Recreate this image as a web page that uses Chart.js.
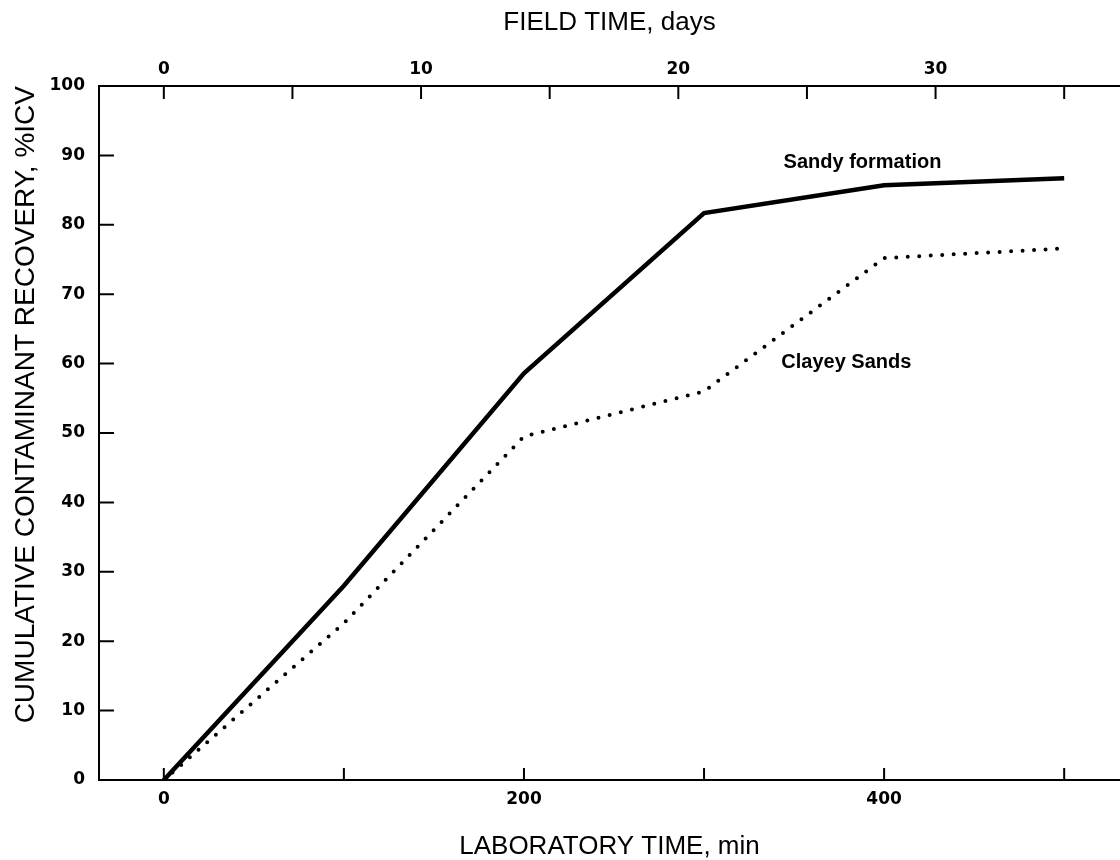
<!DOCTYPE html>
<html><head><meta charset="utf-8">
<script src="https://cdn.jsdelivr.net/npm/chart.js@4/dist/chart.umd.min.js"></script>
<style>html,body{margin:0;padding:0;background:#fff}canvas{display:block}</style>
</head><body>
<canvas id="c" width="1120" height="860"></canvas>
<script>
// ---- data ----
const labTimeMin = [0, 100, 200, 300, 400, 500];
const sandyFormation = [0, 28, 58.6, 81.7, 85.7, 86.7];
const clayeySands = [0, 22.6, 49.5, 56, 75.2, 76.6];
const seriesNames = ['Sandy formation', 'Clayey Sands'];

const labTicks = [0, 100, 200, 300, 400, 500];
const labTickLabels = ['0', '', '200', '', '400', ''];
const fieldTicks = [0, 5, 10, 15, 20, 25, 30, 35];
const fieldTickLabels = ['0', '', '10', '', '20', '', '30', ''];
const recoveryTicks = [0, 10, 20, 30, 40, 50, 60, 70, 80, 90, 100];
const recoveryTickLabels = ['0', '10', '20', '30', '40', '50', '60', '70', '80', '90', '100'];

const labRange = [-36, 531];          // visible laboratory-time range, min
const minutesPerDay = 500 / 35;       // 35 field days = 500 lab minutes

// series label anchors (data units: lab min, %ICV)
const noteLab = [388, 379];
const noteRecovery = [89, 60.2];

// ---- chart ----
const tickFont = { family: '"DejaVu Sans", sans-serif', weight: 'bold', size: 17 };
const titleFont = { family: '"Liberation Sans", Arial, sans-serif', size: 26, lineHeight: 1 };

const tickMarks = {
  id: 'tickMarks',
  afterDraw(chart) {
    const ctx = chart.ctx, a = chart.chartArea;
    const x = chart.scales.x, x2 = chart.scales.x2, y = chart.scales.y;
    ctx.save();
    ctx.strokeStyle = '#000';
    ctx.lineWidth = 2;
    ctx.beginPath();
    labTicks.forEach(v => { const p = x.getPixelForValue(v); ctx.moveTo(p, a.bottom); ctx.lineTo(p, a.bottom - 12); });
    fieldTicks.forEach(v => { const p = x2.getPixelForValue(v); ctx.moveTo(p, a.top); ctx.lineTo(p, a.top + 13); });
    recoveryTicks.forEach(v => { const p = y.getPixelForValue(v); ctx.moveTo(a.left, p); ctx.lineTo(a.left + 15, p); });
    ctx.stroke();
    // series notes
    ctx.fillStyle = '#000';
    ctx.font = 'bold 20px "Liberation Sans", Arial, sans-serif';
    ctx.textAlign = 'center';
    ctx.textBaseline = 'middle';
    seriesNames.forEach((n, i) => {
      ctx.fillText(n, x.getPixelForValue(noteLab[i]), y.getPixelForValue(noteRecovery[i]));
    });
    ctx.restore();
  }
};

new Chart(document.getElementById('c'), {
  type: 'line',
  data: {
    datasets: [
      {
        label: seriesNames[0],
        data: labTimeMin.map((t, i) => ({ x: t, y: sandyFormation[i] })),
        borderColor: '#000', borderWidth: 4.5, pointRadius: 0, tension: 0,
        xAxisID: 'x', yAxisID: 'y'
      },
      {
        label: seriesNames[1],
        data: labTimeMin.map((t, i) => ({ x: t, y: clayeySands[i] })),
        borderColor: '#000', borderWidth: 4, borderDash: [0, 11.5], borderCapStyle: 'round',
        pointRadius: 0, tension: 0, xAxisID: 'x', yAxisID: 'y'
      }
    ]
  },
  options: {
    responsive: false,
    animation: false,
    devicePixelRatio: 1,
    layout: { padding: 0 },
    plugins: { legend: { display: false }, tooltip: { enabled: false } },
    scales: {
      x: {
        type: 'linear', position: 'bottom',
        min: labRange[0], max: labRange[1],
        afterBuildTicks: s => { s.ticks = labTicks.map(v => ({ value: v })); },
        afterFit: s => { s.height = 80; },
        grid: { display: false, drawTicks: false },
        border: { display: true, color: '#000', width: 2 },
        ticks: { color: '#000', font: tickFont, padding: 9, autoSkip: false, maxRotation: 0,
                 callback: (v, i) => labTickLabels[i] },
        title: { display: true, text: 'LABORATORY TIME, min', color: '#000', font: titleFont, padding: { top: 0, bottom: 0 } }
      },
      x2: {
        type: 'linear', position: 'top',
        min: labRange[0] / minutesPerDay, max: labRange[1] / minutesPerDay,
        afterBuildTicks: s => { s.ticks = fieldTicks.map(v => ({ value: v })); },
        afterFit: s => { s.height = 86; },
        grid: { display: false, drawTicks: false },
        border: { display: true, color: '#000', width: 2 },
        ticks: { color: '#000', font: tickFont, padding: 6, autoSkip: false, maxRotation: 0,
                 callback: (v, i) => fieldTickLabels[i] },
        title: { display: true, text: 'FIELD TIME, days', color: '#000', font: titleFont, padding: { top: 10, bottom: 0 } }
      },
      y: {
        type: 'linear', position: 'left',
        min: 0, max: 100,
        afterBuildTicks: s => { s.ticks = recoveryTicks.map(v => ({ value: v })); },
        afterFit: s => { s.width = 99; },
        grid: { display: false, drawTicks: false },
        border: { display: true, color: '#000', width: 2 },
        ticks: { color: '#000', font: tickFont, padding: 14, autoSkip: false,
                 callback: (v, i) => recoveryTickLabels[i] },
        title: { display: true, text: 'CUMULATIVE CONTAMINANT RECOVERY, %ICV', color: '#000', align: 'end',
                 font: { family: '"Liberation Sans", Arial, sans-serif', size: 28, lineHeight: 1 },
                 padding: { top: 12, bottom: 0 } }
      }
    }
  },
  plugins: [tickMarks]
});
</script>
</body></html>
